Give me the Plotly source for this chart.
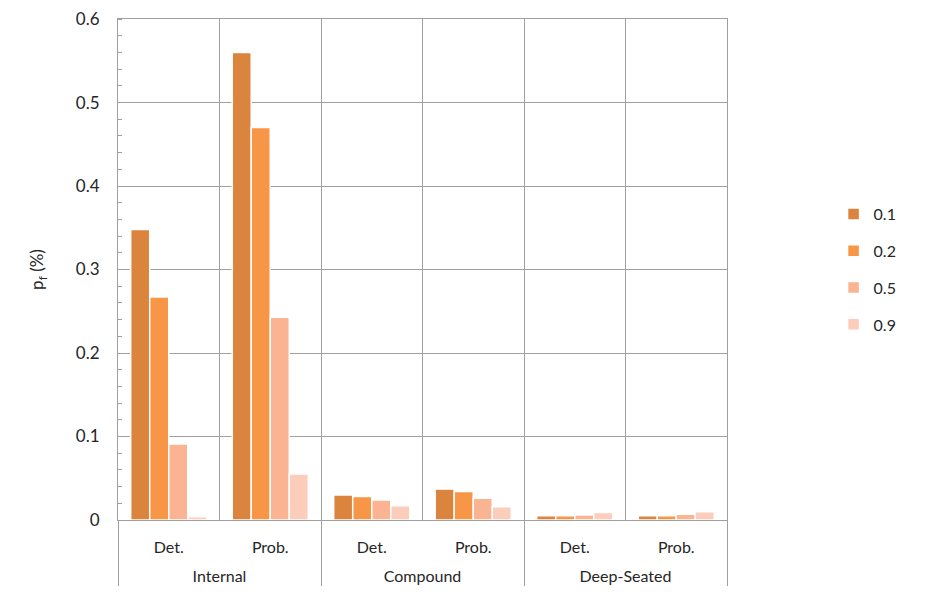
import plotly.graph_objects as go

groups = ["Internal", "Internal", "Compound", "Compound", "Deep-Seated", "Deep-Seated"]
methods = ["Det.", "Prob.", "Det.", "Prob.", "Det.", "Prob."]

series_names = ["0.1", "0.2", "0.5", "0.9"]
pf_01 = [0.348, 0.560, 0.030, 0.037, 0.005, 0.005]
pf_02 = [0.267, 0.470, 0.028, 0.034, 0.005, 0.005]
pf_05 = [0.091, 0.243, 0.024, 0.026, 0.006, 0.007]
pf_09 = [0.004, 0.055, 0.017, 0.016, 0.009, 0.010]
series_vals = [pf_01, pf_02, pf_05, pf_09]
colors = ["#DB843D", "#F79646", "#FAB491", "#FBCDBA"]

y_ticks = [0, 0.1, 0.2, 0.3, 0.4, 0.5, 0.6]
y_ticktext = ["0", "0.1", "0.2", "0.3", "0.4", "0.5", "0.6"]

# leading line break pushes the group row further down, like Excel does
group_labels = ["<br>" + g for g in groups]

grid = "#A0A0A0"
fig = go.Figure()
for i in range(4):
    fig.add_trace(go.Bar(
        x=[group_labels, methods], y=series_vals[i], name=series_names[i],
        marker=dict(color=colors[i], line=dict(color="white", width=1.5)),
        legendgroup=series_names[i]))

# page body has an 8px margin, so the figure is a bit smaller than the window
fig.update_layout(
    width=925, height=593,
    margin=dict(l=110, r=206, t=11, b=81),
    plot_bgcolor="white", paper_bgcolor="white",
    font=dict(family="Lato, Open Sans, sans-serif", size=16, color="#262626"),
    barmode="group", bargap=0.25, bargroupgap=0.0,
    legend=dict(x=1.175, y=0.5, xanchor="left", yanchor="middle",
                tracegroupgap=13, font=dict(size=16)),
)
fig.update_xaxes(
    automargin=False,
    tickson="boundaries", showgrid=True, gridcolor=grid, gridwidth=1,
    showline=True, linecolor=grid, mirror=True,
    showdividers=True, dividercolor=grid, dividerwidth=1,
    ticks="", tickfont=dict(size=16), ticklabelstandoff=13,
)
fig.update_yaxes(
    automargin=False,
    range=[0, 0.6001], tickmode="array", tickvals=y_ticks, ticktext=y_ticktext,
    showgrid=True, gridcolor=grid, gridwidth=1,
    showline=True, linecolor=grid, mirror=True, zeroline=False,
    ticks="", tickfont=dict(size=17), ticklabelstandoff=14,
    minor=dict(dtick=0.02, ticks="inside", ticklen=4, tickcolor=grid, showgrid=False),
    title=dict(text="p<sub>f</sub> (%)", font=dict(size=17), standoff=27),
)

fig.write_html("out.html")
